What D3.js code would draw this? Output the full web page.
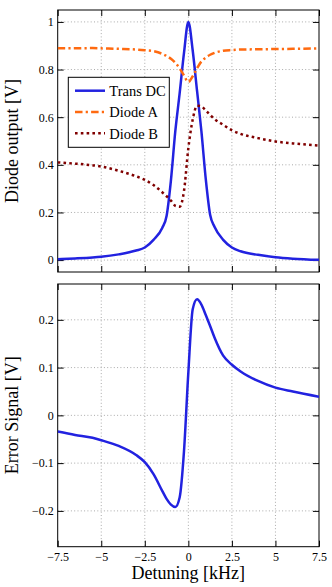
<!DOCTYPE html>
<html>
<head>
    <title></title>
    <meta charset="utf-8">
    <style>
        body { margin: 0; background: #fff; }
        text { font-family: "Liberation Serif", "DejaVu Serif", serif; fill: #000; }
    </style>
</head>
<body>
<script src="https://cdn.jsdelivr.net/npm/d3@7"></script>
<script>
    // detuning in kHz, shared by every series
    var detuning = [-7.5, -6.5, -5.5, -5, -4, -3, -2.5, -2, -1.5, -1.25, -1, -0.75, -0.5, -0.25,
        0, 0.25, 0.5, 0.75, 1, 1.25, 1.5, 2, 2.5, 3, 4, 5, 6, 7.5];

    var transDC = [0.004, 0.007, 0.011, 0.014, 0.024, 0.04, 0.053, 0.085, 0.135, 0.185, 0.335, 0.54, 0.7, 0.87,
        1.0, 0.88, 0.71, 0.54, 0.34, 0.19, 0.14, 0.085, 0.053, 0.037, 0.022, 0.012, 0.006, 0.001];

    var diodeA = [0.889, 0.889, 0.89, 0.889, 0.887, 0.884, 0.881, 0.877, 0.866, 0.857, 0.845, 0.828, 0.805, 0.775,
        0.748, 0.772, 0.805, 0.834, 0.85, 0.862, 0.87, 0.879, 0.882, 0.884, 0.885, 0.886, 0.887, 0.889];

    var diodeB = [0.41, 0.405, 0.398, 0.393, 0.375, 0.352, 0.337, 0.315, 0.285, 0.268, 0.25, 0.228, 0.224, 0.29,
        0.47, 0.59, 0.648, 0.645, 0.628, 0.61, 0.592, 0.568, 0.545, 0.53, 0.512, 0.498, 0.49, 0.481];

    var errorSignal = [-0.034, -0.041, -0.047, -0.052, -0.064, -0.083, -0.098, -0.123, -0.158, -0.175, -0.187, -0.192, -0.172, -0.075,
        0.09, 0.222, 0.243, 0.232, 0.21, 0.187, 0.163, 0.125, 0.106, 0.092, 0.072, 0.058, 0.05, 0.039];

    var xTicks = [-7.5, -5, -2.5, 0, 2.5, 5, 7.5];
    var topTicks = [0, 0.2, 0.4, 0.6, 0.8, 1];
    var bottomTicks = [-0.2, -0.1, 0, 0.1, 0.2];

    var svg = d3.select('body').append('svg')
        .attr('width', 332)
        .attr('height', 587);

    var left = 57.7, right = 319;
    var x = d3.scaleLinear().domain([-7.5, 7.5]).range([left, right]);

    var panels = [
        { top: 10, bottom: 272, y: d3.scaleLinear().domain([-0.05, 1.05]).range([272, 10]),
          ticks: topTicks, label: 'Diode output [V]', xLabels: false },
        { top: 284, bottom: 546.7, y: d3.scaleLinear().domain([-0.275, 0.275]).range([546.7, 284]),
          ticks: bottomTicks, label: 'Error Signal [V]', xLabels: true }
    ];

    var fmt = d3.format('');

    panels.forEach(function (p, i) {
        var g = svg.append('g');

        g.append('clipPath').attr('id', 'clip' + i)
            .append('rect')
            .attr('x', left).attr('y', p.top)
            .attr('width', right - left).attr('height', p.bottom - p.top);

        // dotted grid
        g.selectAll('.gx').data(xTicks.slice(1, -1)).enter().append('line')
            .attr('x1', x).attr('x2', x)
            .attr('y1', p.top).attr('y2', p.bottom)
            .style('stroke', '#aaa').style('stroke-dasharray', '1,2.3');
        g.selectAll('.gy').data(p.ticks).enter().append('line')
            .attr('x1', left).attr('x2', right)
            .attr('y1', p.y).attr('y2', p.y)
            .style('stroke', '#aaa').style('stroke-dasharray', '1,2.3');

        // axes with inward ticks on all four sides
        g.append('g').attr('transform', 'translate(0,' + p.bottom + ')')
            .call(d3.axisBottom(x).tickValues(xTicks).tickSize(-6).tickPadding(5.5)
                .tickFormat(p.xLabels ? fmt : ''));
        g.append('g').attr('transform', 'translate(0,' + p.top + ')')
            .call(d3.axisTop(x).tickValues(xTicks).tickSize(-6).tickFormat(''));
        g.append('g').attr('transform', 'translate(' + left + ',0)')
            .call(d3.axisLeft(p.y).tickValues(p.ticks).tickSize(-6).tickPadding(4).tickFormat(fmt));
        g.append('g').attr('transform', 'translate(' + right + ',0)')
            .call(d3.axisRight(p.y).tickValues(p.ticks).tickSize(-6).tickFormat(''));

        g.selectAll('.domain').remove();
        g.selectAll('.tick line').style('stroke', '#000');
        g.selectAll('.tick text')
            .style('font-family', '"Liberation Serif", serif')
            .style('font-size', '12px');

        g.append('rect')
            .attr('x', left).attr('y', p.top)
            .attr('width', right - left).attr('height', p.bottom - p.top)
            .style('fill', 'none').style('stroke', '#000').style('stroke-width', 1);

        g.append('text')
            .attr('transform', 'translate(18,' + ((p.top + p.bottom) / 2) + ') rotate(-90)')
            .attr('text-anchor', 'middle')
            .style('font-size', '18px')
            .text(p.label);

        p.g = g;
    });

    svg.append('text')
        .attr('x', 188.3).attr('y', 579)
        .attr('text-anchor', 'middle')
        .style('font-size', '18px')
        .text('Detuning [kHz]');

    function lineFor(y) {
        return d3.line()
            .x(function (d) { return x(d[0]); })
            .y(function (d) { return y(d[1]); })
            .curve(d3.curveMonotoneX);
    }

    var series = [
        { name: 'Trans DC', values: transDC, color: '#2222e0', dash: null },
        { name: 'Diode A', values: diodeA, color: '#ff6a10', dash: '7.5,3.2,2.2,3.2' },
        { name: 'Diode B', values: diodeB, color: '#800000', dash: '2.6,3.2' }
    ];

    var topLine = lineFor(panels[0].y);
    series.forEach(function (s) {
        panels[0].g.append('path')
            .datum(d3.zip(detuning, s.values))
            .attr('clip-path', 'url(#clip0)')
            .attr('d', topLine)
            .style('fill', 'none')
            .style('stroke', s.color)
            .style('stroke-width', 2.5)
            .style('stroke-dasharray', s.dash);
    });

    panels[1].g.append('path')
        .datum(d3.zip(detuning, errorSignal))
        .attr('clip-path', 'url(#clip1)')
        .attr('d', lineFor(panels[1].y))
        .style('fill', 'none')
        .style('stroke', '#2222e0')
        .style('stroke-width', 2.5);

    // legend
    var legend = svg.append('g');
    legend.append('rect')
        .attr('x', 68.3).attr('y', 77.3)
        .attr('width', 101).attr('height', 70)
        .style('fill', '#fff').style('stroke', '#000').style('stroke-width', 1);

    var rows = legend.selectAll('.row').data(series).enter().append('g')
        .attr('transform', function (d, i) { return 'translate(0,' + (90.7 + i * 21.3) + ')'; });
    rows.append('line')
        .attr('x1', 75).attr('x2', 105)
        .style('stroke', function (d) { return d.color; })
        .style('stroke-width', 2.5)
        .style('stroke-dasharray', function (d) { return d.dash; });
    rows.append('text')
        .attr('x', 109.3).attr('y', 5.3)
        .style('font-size', '14.5px')
        .text(function (d) { return d.name; });
</script>
</body>
</html>
